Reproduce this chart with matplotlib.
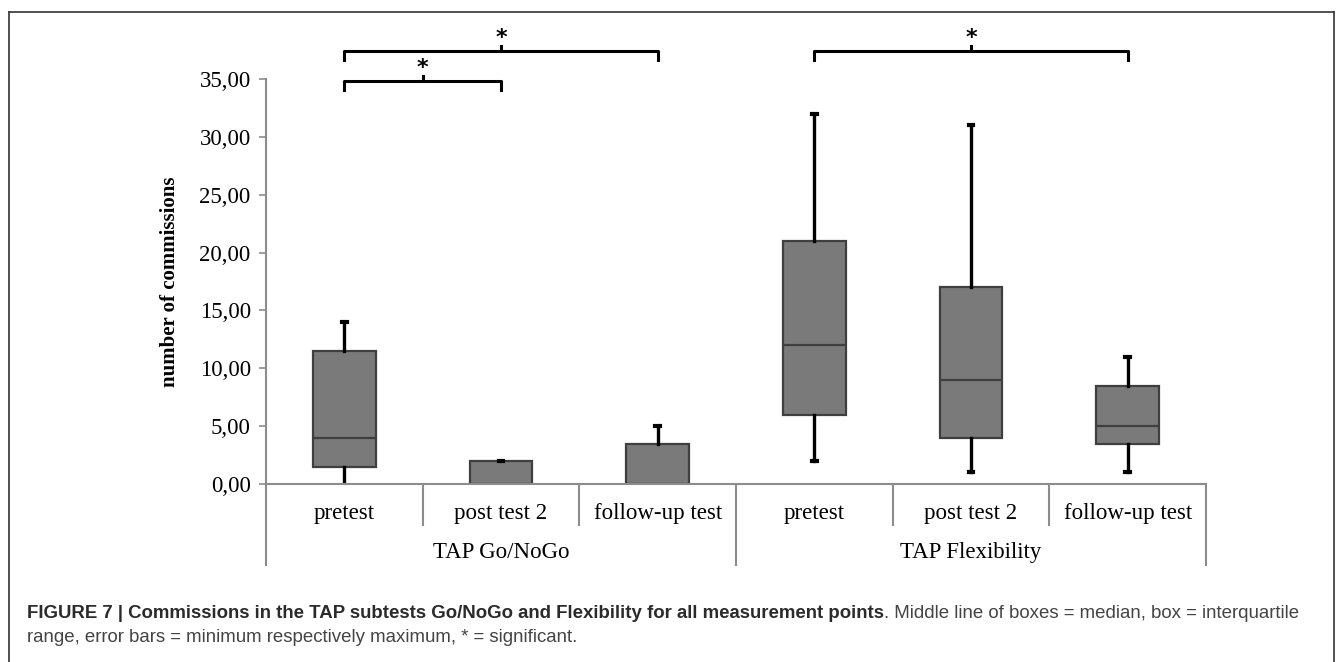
import matplotlib.pyplot as plt
from matplotlib import font_manager
from matplotlib.lines import Line2D

# data
categories = ['pretest', 'post test 2', 'follow-up test',
              'pretest', 'post test 2', 'follow-up test']
groups = ['TAP Go/NoGo', 'TAP Flexibility']
minimum = [0, 0, 0, 2, 1, 1]
q1 = [1.5, 0, 0, 6, 4, 3.5]
median = [4, 0, 0, 12, 9, 5]
q3 = [11.5, 2, 3.5, 21, 17, 8.5]
maximum = [14, 2, 5, 32, 31, 11]
yticks = [0, 5, 10, 15, 20, 25, 30, 35]
# significance brackets: (from category, to category, level)
brackets = [(0, 2, 37.4), (0, 1, 34.8), (3, 5, 37.4)]

names = {f.name for f in font_manager.fontManager.ttflist}
serif = 'Liberation Serif'
narrow = 'Liberation Sans Narrow' if 'Liberation Sans Narrow' in names else 'Liberation Sans'

W, H = 1341, 662
fig = plt.figure(figsize=(W / 100, H / 100), dpi=100)
ax = fig.add_axes([266 / W, 1 - 484 / H, (1206 - 266) / W, (484 - 79) / H])

pos = [i + 0.5 for i in range(len(categories))]
stats = [dict(whislo=a, q1=b, med=c, q3=d, whishi=e)
         for a, b, c, d, e in zip(minimum, q1, median, q3, maximum)]
parts = ax.bxp(stats, positions=pos, widths=0.40, showfliers=False, patch_artist=True,
               capwidths=0.03,
               boxprops=dict(facecolor='#7a7a7a', edgecolor='#3f3f3f', linewidth=1.6),
               medianprops=dict(color='#3f3f3f', linewidth=1.6),
               whiskerprops=dict(color='black', linewidth=2.4),
               capprops=dict(color='black', linewidth=3.0))
# caps sitting on the axis are not visible in the original
for cap in parts['caps']:
    if cap.get_ydata()[0] == 0:
        cap.set_visible(False)

ax.set_xlim(0, 6)
ax.set_ylim(0, 35)
ax.set_yticks(yticks)
ax.set_yticklabels([f'{v:.2f}'.replace('.', ',') for v in yticks],
                   fontfamily=serif, fontsize=16.5)
ax.tick_params(axis='y', length=5, width=1.2, color='#8c8c8c', pad=6)
ax.set_xticks([])
for s in ['top', 'right', 'left']:
    ax.spines[s].set_visible(False)
ax.spines['bottom'].set_color('#8c8c8c')
ax.spines['bottom'].set_linewidth(1.5)

gray = '#8c8c8c'
tr = ax.get_xaxis_transform()
for i in range(7):
    low = -0.2 if i in (0, 3, 6) else -0.101
    ax.add_line(Line2D([i, i], [0, low], transform=tr, color=gray, lw=1.5, clip_on=False))
ax.add_line(Line2D([0, 0], [0, 1], transform=tr, color=gray, lw=1.5, clip_on=False))

for p, c in zip(pos, categories):
    ax.text(p, -0.072, c, transform=tr, ha='center', va='center',
            fontfamily=serif, fontsize=16.5)
for g, gname in enumerate(groups):
    ax.text(1.5 + 3 * g, -0.168, gname, transform=tr, ha='center', va='center',
            fontfamily=serif, fontsize=16.5)

ax.set_ylabel('number of commissions', fontfamily=serif, fontweight='bold',
              fontsize=15, labelpad=14)

for a, b, y in brackets:
    xa, xb = pos[a], pos[b]
    ax.plot([xa, xa, xb, xb], [y - 0.75, y, y, y - 0.75], color='black', lw=2.2,
            solid_joinstyle='round', clip_on=False)
    xm = (xa + xb) / 2
    ax.plot([xm, xm], [y, y + 0.45], color='black', lw=2.2, clip_on=False)
    ax.text(xm, y + 0.25, '*', ha='center', va='bottom', fontsize=16,
            fontweight='bold', fontfamily='DejaVu Sans', clip_on=False)

# figure frame and caption
fig.add_artist(Line2D([9 / W, 9 / W], [0, 1 - 12 / H], color='#333333', lw=1.2))
fig.add_artist(Line2D([9 / W, 1334 / W], [1 - 12 / H, 1 - 12 / H], color='#333333', lw=1.2))
fig.add_artist(Line2D([1334 / W, 1334 / W], [0, 1 - 12 / H], color='#333333', lw=1.2))

fs_cap = 13.4
bold_part = 'FIGURE 7 | Commissions in the TAP subtests Go/NoGo and Flexibility for all measurement points'
t1 = fig.text(27 / W, 1 - 613 / H, bold_part, fontfamily=narrow, fontweight='bold',
              fontsize=fs_cap, color='#2b2b2b', va='center')
fig.canvas.draw()
bb = t1.get_window_extent()
fig.text(bb.x1 / W, 1 - 613 / H, '. Middle line of boxes = median, box = interquartile',
         fontfamily=narrow, fontsize=fs_cap, color='#444444', va='center')
fig.text(27 / W, 1 - 638 / H,
         'range, error bars = minimum respectively maximum, * = significant.',
         fontfamily=narrow, fontsize=fs_cap, color='#444444', va='center')

fig.savefig('out.png', dpi=100)
